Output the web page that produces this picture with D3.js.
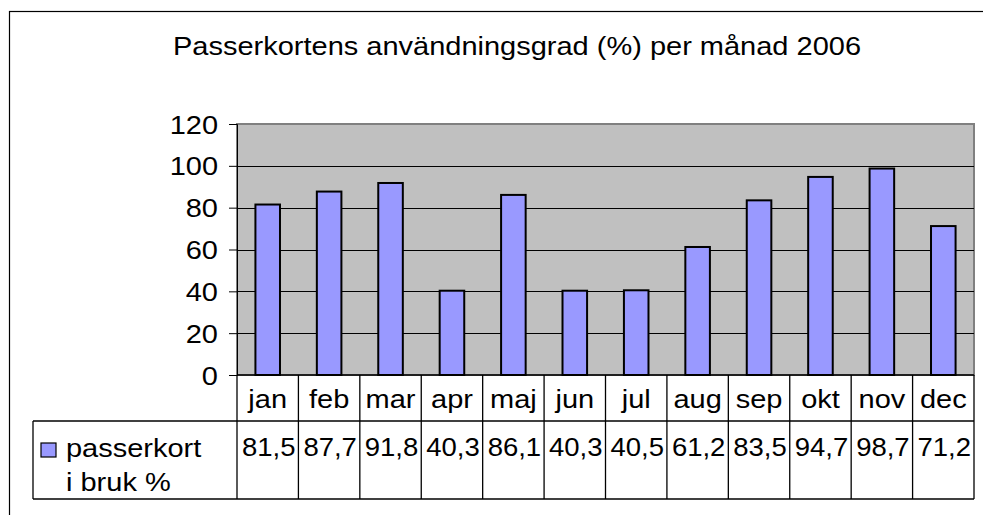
<!DOCTYPE html>
<html>
<head>
<meta charset="utf-8">
<script src="https://cdn.jsdelivr.net/npm/d3@7"></script>
<style>
  body { margin: 0; background: #fff; }
  svg { display: block; font-family: "Liberation Sans", Arial, sans-serif; }
</style>
</head>
<body>
<div id="chart"></div>
<script>
// data
let title = "Passerkortens användningsgrad (%) per månad 2006"
let months = ["jan", "feb", "mar", "apr", "maj", "jun", "jul", "aug", "sep", "okt", "nov", "dec"]
let values = [81.5, 87.7, 91.8, 40.3, 86.1, 40.3, 40.5, 61.2, 83.5, 94.7, 98.7, 71.2]
let yTicks = [0, 20, 40, 60, 80, 100, 120]
let seriesName = ["passerkort", "i bruk %"]

let width = 983
let height = 515

let plot = { left: 237, right: 974, top: 124, bottom: 375 }
let catRowBottom = 421
let dataRowBottom = 499
let legendLeft = 33

// the reference text is a bit wider than normal Arial
let sx = 1.16

let svg = d3.select('#chart')
    .append('svg')
    .attr('width', width)
    .attr('height', height)

// outer chart frame (runs off the page on right and bottom)
svg.append('rect')
    .attr('x', 9.5)
    .attr('y', 11.5)
    .attr('width', 1100)
    .attr('height', 700)
    .style('fill', 'white')
    .style('stroke', '#000')
    .style('stroke-width', 1.2)

svg.append('text')
    .attr('transform', `translate(517,55) scale(${sx},1)`)
    .attr('text-anchor', 'middle')
    .style('font-size', '25px')
    .text(title)

let x = d3.scaleBand()
    .domain(months)
    .range([plot.left, plot.right])

let y = d3.scaleLinear()
    .domain([0, 120])
    .range([plot.bottom, plot.top])

// plot background
svg.append('rect')
    .attr('x', plot.left)
    .attr('y', plot.top)
    .attr('width', plot.right - plot.left)
    .attr('height', plot.bottom - plot.top)
    .style('fill', '#c0c0c0')
    .style('stroke', '#808080')
    .style('stroke-width', 2)

// gridlines
svg.append('g')
    .selectAll('line')
    .data(yTicks.filter(d => d > 0 && d < 120))
    .join('line')
    .attr('x1', plot.left)
    .attr('x2', plot.right)
    .attr('y1', d => Math.round(y(d)) + 0.5)
    .attr('y2', d => Math.round(y(d)) + 0.5)
    .style('stroke', '#000')
    .style('stroke-width', 1)

// bars
let barW = x.bandwidth() * 0.4
svg.append('g')
    .selectAll('rect')
    .data(values)
    .join('rect')
    .attr('x', (d, i) => x(months[i]) + (x.bandwidth() - barW) / 2)
    .attr('y', d => y(d))
    .attr('width', barW)
    .attr('height', d => y(0) - y(d))
    .style('fill', '#9999ff')
    .style('stroke', '#000')
    .style('stroke-width', 2)

// y axis
let yAxis = svg.append('g')
    .attr('transform', `translate(${plot.left},0)`)
    .call(d3.axisLeft(y).tickValues(yTicks).tickSize(8).tickPadding(11))
yAxis.selectAll('text')
    .style('font-size', '25px')
    .style('font-family', '"Liberation Sans", Arial, sans-serif')
    .style('fill', '#000')
    .attr('x', -19 / sx)
    .attr('transform', `scale(${sx},1)`)
    .attr('dy', '0.36em')
yAxis.selectAll('line').style('stroke', '#000')
yAxis.select('.domain').style('stroke', '#000')

// data table lines
let tbl = svg.append('g').style('stroke', '#000').style('stroke-width', 1.3)
tbl.append('line')
    .attr('x1', plot.left).attr('x2', plot.right)
    .attr('y1', plot.bottom).attr('y2', plot.bottom)
tbl.append('line')
    .attr('x1', legendLeft).attr('x2', plot.right)
    .attr('y1', catRowBottom).attr('y2', catRowBottom)
tbl.append('line')
    .attr('x1', legendLeft).attr('x2', plot.right)
    .attr('y1', dataRowBottom).attr('y2', dataRowBottom)
tbl.append('line')
    .attr('x1', legendLeft).attr('x2', legendLeft)
    .attr('y1', catRowBottom).attr('y2', dataRowBottom)
tbl.selectAll('line.col')
    .data(months.concat(['end']))
    .join('line')
    .attr('class', 'col')
    .attr('x1', (d, i) => i < months.length ? x(d) : plot.right)
    .attr('x2', (d, i) => i < months.length ? x(d) : plot.right)
    .attr('y1', plot.bottom)
    .attr('y2', dataRowBottom)

// category labels
svg.append('g')
    .selectAll('text')
    .data(months)
    .join('text')
    .attr('transform', d => `translate(${x(d) + x.bandwidth() / 2},408) scale(${sx},1)`)
    .attr('text-anchor', 'middle')
    .style('font-size', '25px')
    .text(d => d)

// values row
svg.append('g')
    .selectAll('text')
    .data(values)
    .join('text')
    .attr('transform', (d, i) => `translate(${x(months[i]) + x.bandwidth() / 2 + 1},456) scale(1.1,1)`)
    .attr('text-anchor', 'middle')
    .style('font-size', '25px')
    .text(d => d3.format('.1f')(d).replace('.', ','))

// legend key
svg.append('rect')
    .attr('x', 41)
    .attr('y', 443)
    .attr('width', 15)
    .attr('height', 14)
    .style('fill', '#9999ff')
    .style('stroke', '#000')
    .style('stroke-width', 1.2)

svg.append('g')
    .selectAll('text')
    .data(seriesName)
    .join('text')
    .attr('transform', (d, i) => `translate(66,${457 + i * 34}) scale(${sx},1)`)
    .style('font-size', '25px')
    .text(d => d)
</script>
</body>
</html>
